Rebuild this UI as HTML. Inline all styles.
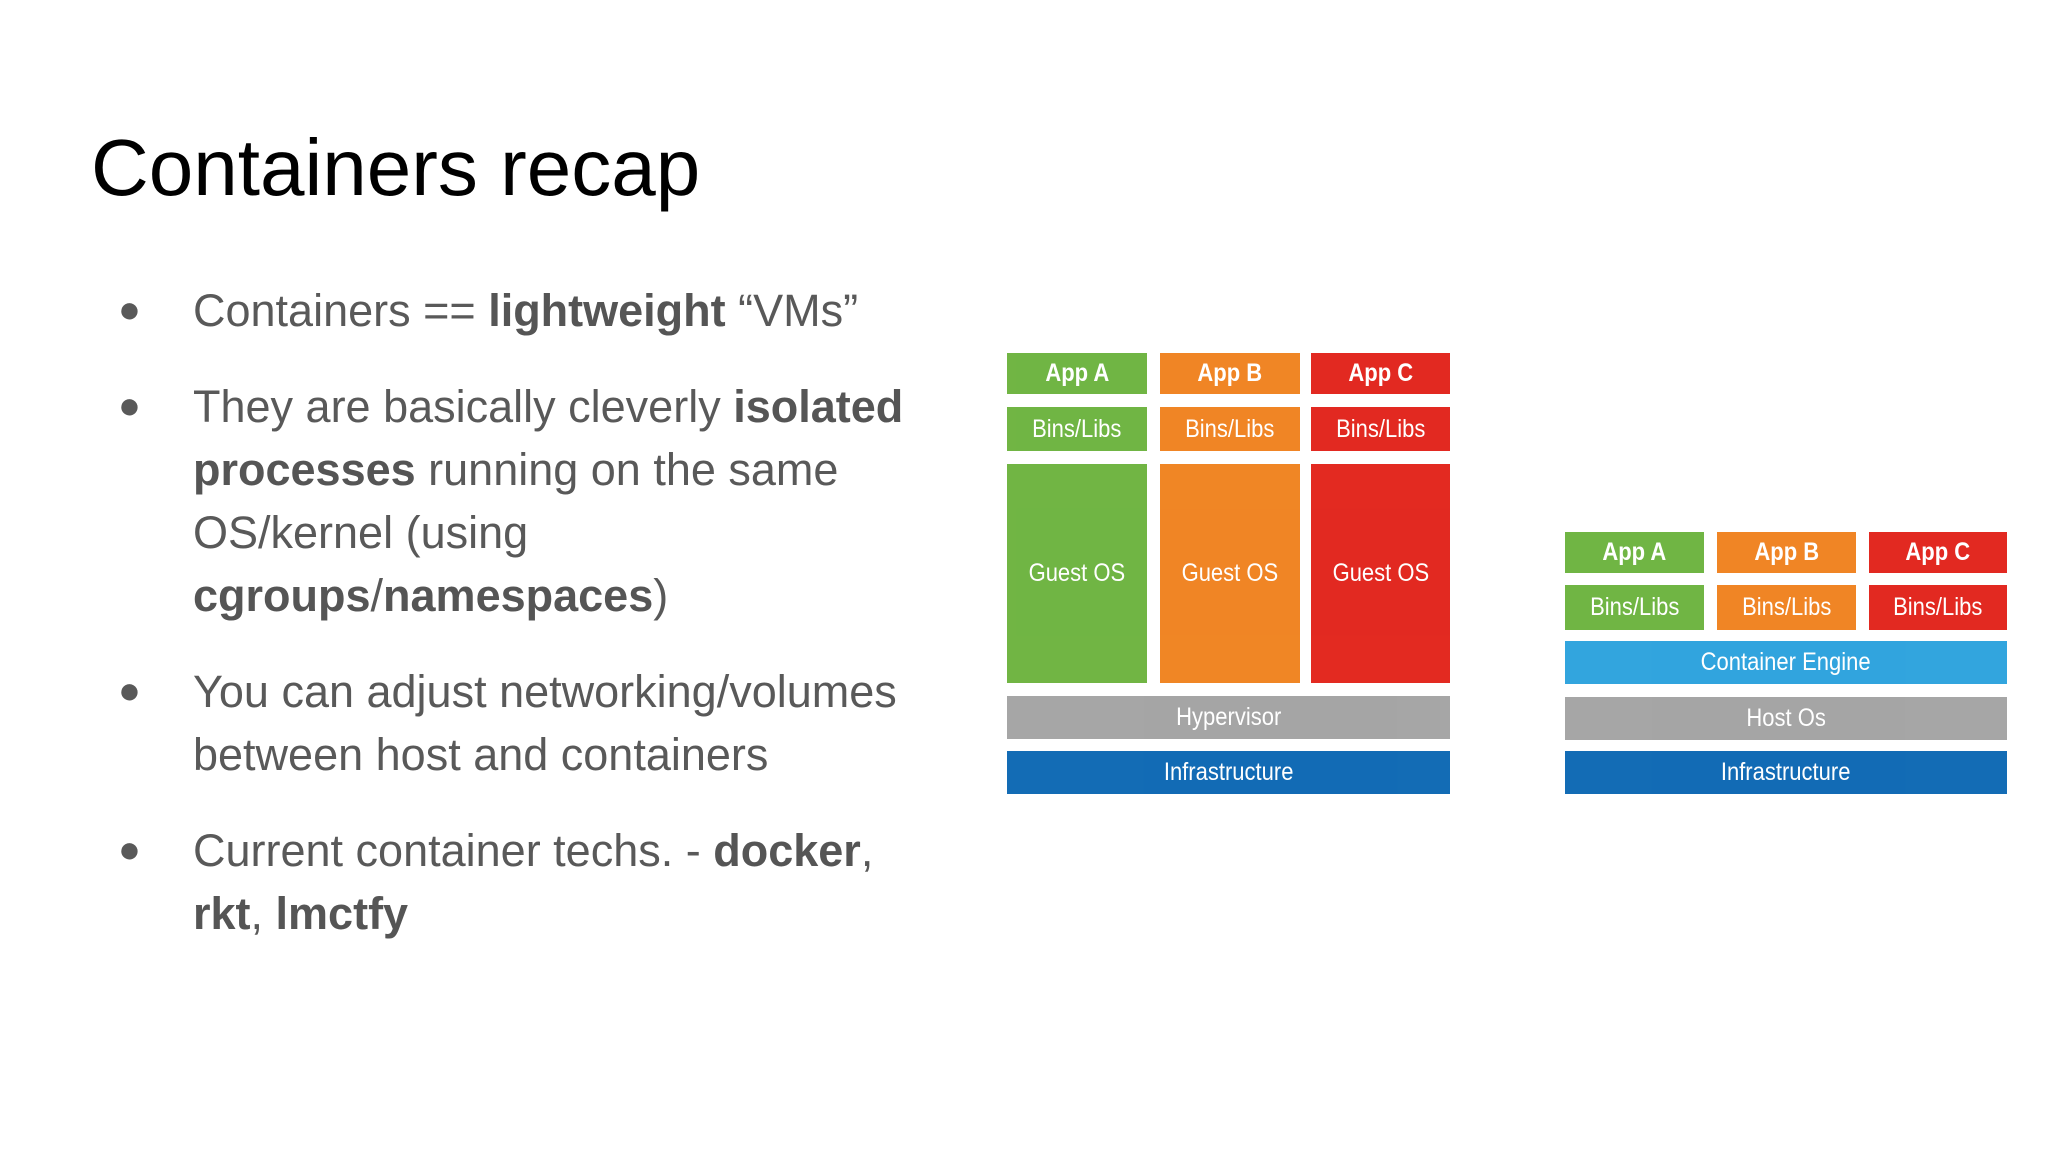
<!DOCTYPE html>
<html><head><meta charset="utf-8"><style>
body{margin:0;width:2048px;height:1152px;background:#fff;position:relative;overflow:hidden;font-family:"Liberation Sans",sans-serif}
.t{position:absolute;left:91px;top:122px;font-size:80px;color:#000;white-space:nowrap}
.l{position:absolute;left:193px;font-size:45px;color:#595959;white-space:nowrap;line-height:63px}
.b{position:absolute;left:118px;font-size:38px;color:#595959;line-height:63px}
.l b{color:#555}
.x{position:absolute;color:#fff;display:flex;align-items:center;justify-content:center;font-family:"Liberation Sans Narrow","Liberation Sans",sans-serif;font-size:25px;opacity:.97}
.x i{font-style:normal;display:inline-block;transform:scaleX(.88)}
.a{font-weight:bold}
.g{background:#6cb33e}.o{background:#f0821e}.r{background:#e2231a}.gr{background:#a3a3a3}.bl{background:#0b67b3}.lb{background:#2ba2dd}
</style></head><body>
<div class="t">Containers recap</div>
<div class="b" style="top:279px">●</div>
<div class="l" style="top:279px">Containers == <b>lightweight</b> “VMs”</div>
<div class="b" style="top:375px">●</div>
<div class="l" style="top:375px">They are basically cleverly <b>isolated</b></div>
<div class="l" style="top:438px"><b>processes</b> running on the same</div>
<div class="l" style="top:501px">OS/kernel (using</div>
<div class="l" style="top:564px"><b>cgroups</b>/<b>namespaces</b>)</div>
<div class="b" style="top:660px">●</div>
<div class="l" style="top:660px">You can adjust networking/volumes</div>
<div class="l" style="top:723px">between host and containers</div>
<div class="b" style="top:819px">●</div>
<div class="l" style="top:819px">Current container techs. - <b>docker</b>,</div>
<div class="l" style="top:882px"><b>rkt</b>, <b>lmctfy</b></div>

<div class="x a g" style="left:1007px;top:353px;width:140px;height:41px"><i>App A</i></div>
<div class="x a o" style="left:1160px;top:353px;width:140px;height:41px"><i>App B</i></div>
<div class="x a r" style="left:1311px;top:353px;width:139px;height:41px"><i>App C</i></div>
<div class="x g" style="left:1007px;top:407px;width:140px;height:44px"><i>Bins/Libs</i></div>
<div class="x o" style="left:1160px;top:407px;width:140px;height:44px"><i>Bins/Libs</i></div>
<div class="x r" style="left:1311px;top:407px;width:139px;height:44px"><i>Bins/Libs</i></div>
<div class="x g" style="left:1007px;top:464px;width:140px;height:219px"><i>Guest OS</i></div>
<div class="x o" style="left:1160px;top:464px;width:140px;height:219px"><i>Guest OS</i></div>
<div class="x r" style="left:1311px;top:464px;width:139px;height:219px"><i>Guest OS</i></div>
<div class="x gr" style="left:1007px;top:696px;width:443px;height:43px"><i>Hypervisor</i></div>
<div class="x bl" style="left:1007px;top:751px;width:443px;height:43px"><i>Infrastructure</i></div>

<div class="x a g" style="left:1565px;top:532px;width:139px;height:41px"><i>App A</i></div>
<div class="x a o" style="left:1717px;top:532px;width:139px;height:41px"><i>App B</i></div>
<div class="x a r" style="left:1869px;top:532px;width:138px;height:41px"><i>App C</i></div>
<div class="x g" style="left:1565px;top:585px;width:139px;height:45px"><i>Bins/Libs</i></div>
<div class="x o" style="left:1717px;top:585px;width:139px;height:45px"><i>Bins/Libs</i></div>
<div class="x r" style="left:1869px;top:585px;width:138px;height:45px"><i>Bins/Libs</i></div>
<div class="x lb" style="left:1565px;top:641px;width:442px;height:43px"><i>Container Engine</i></div>
<div class="x gr" style="left:1565px;top:697px;width:442px;height:43px"><i>Host Os</i></div>
<div class="x bl" style="left:1565px;top:751px;width:442px;height:43px"><i>Infrastructure</i></div>
</body></html>
